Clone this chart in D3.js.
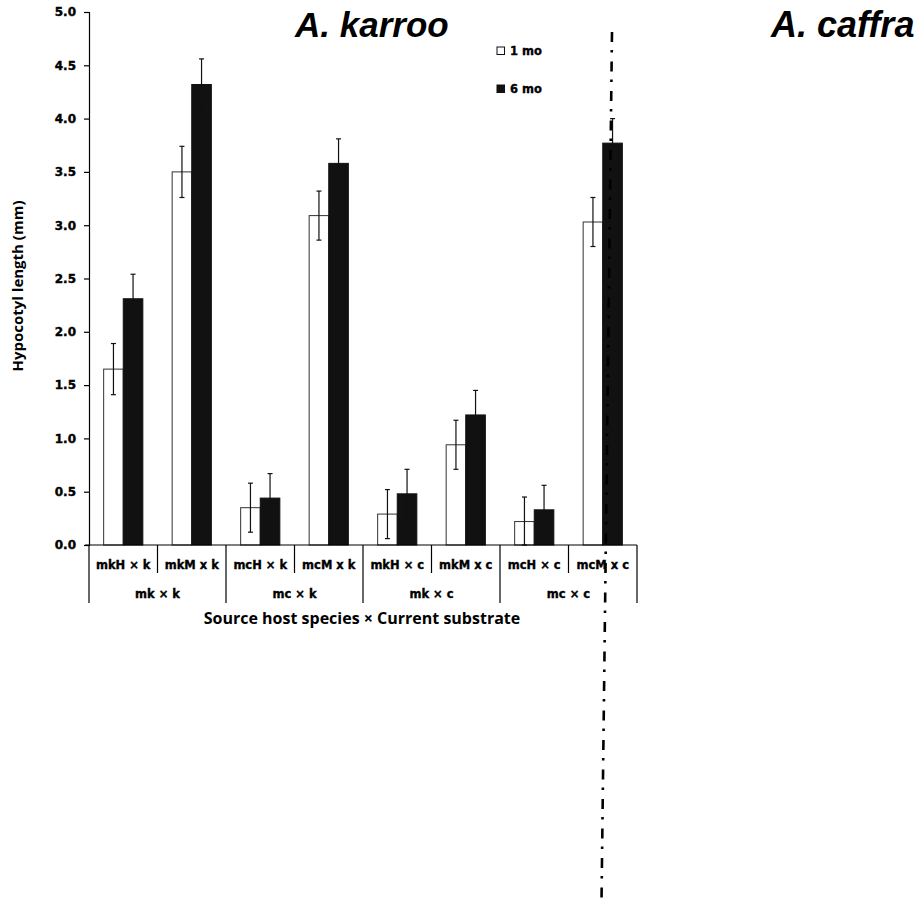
<!DOCTYPE html>
<html>
<head>
<meta charset="utf-8">
<script src="https://cdn.jsdelivr.net/npm/d3@7"></script>
<style>
  html, body { margin: 0; padding: 0; background: #fff; }
  svg { display: block; }
</style>
</head>
<body>
<svg id="chart" width="922" height="903"></svg>
<script>
// Treatment combinations (source host × current substrate)
const categories = ["mkH × k", "mkM x k", "mcH × k", "mcM x k", "mkH × c", "mkM x c", "mcH × c", "mcM x c"];
const groups = ["mk × k", "mc × k", "mk × c", "mc × c"];
const seriesNames = ["1 mo", "6 mo"];

// Mean hypocotyl length (mm) and standard error
const oneMonth   = [1.65, 3.50, 0.35, 3.09, 0.29, 0.94, 0.22, 3.03];
const oneMonthSE = [0.24, 0.24, 0.23, 0.23, 0.23, 0.23, 0.23, 0.23];
const sixMonth   = [2.31, 4.32, 0.44, 3.58, 0.48, 1.22, 0.33, 3.77];
const sixMonthSE = [0.23, 0.24, 0.23, 0.23, 0.23, 0.23, 0.23, 0.23];

const yTicks = [0, 0.5, 1, 1.5, 2, 2.5, 3, 3.5, 4, 4.5, 5];
const titles = ["A. karroo", "A. caffra"];

const svg = d3.select("#chart");
const plot = { left: 89, right: 637, top: 12, bottom: 545 };

const y = d3.scaleLinear().domain([0, 5]).range([plot.bottom, plot.top]);
const x = d3.scaleBand().domain(categories).range([plot.left, plot.right]).paddingInner(0).paddingOuter(0);
const barW = x.bandwidth() * 0.286;
const sub = d3.scaleBand().domain(seriesNames).range([-barW, barW]);

const tickFont = "'DejaVu Sans', sans-serif";

// Bars and error bars
const series = [
  { name: "1 mo", values: oneMonth, se: oneMonthSE, fill: "#ffffff", stroke: "#333" },
  { name: "6 mo", values: sixMonth, se: sixMonthSE, fill: "#111111", stroke: "#111" }
];

series.forEach(s => {
  const g = svg.append("g");
  categories.forEach((c, i) => {
    const cx = x(c) + x.bandwidth() / 2;
    const x0 = cx + sub(s.name);
    g.append("rect")
      .attr("x", x0).attr("y", y(s.values[i]))
      .attr("width", sub.bandwidth()).attr("height", y(0) - y(s.values[i]))
      .attr("fill", s.fill).attr("stroke", s.stroke).attr("stroke-width", 1);
  });
});

series.forEach(s => {
  const g = svg.append("g").attr("stroke", "#111").attr("stroke-width", 1.2);
  categories.forEach((c, i) => {
    const ex = x(c) + x.bandwidth() / 2 + sub(s.name) + sub.bandwidth() / 2;
    const hi = s.values[i] + s.se[i];
    const lo = Math.max(0, s.values[i] - s.se[i]);
    g.append("line").attr("x1", ex).attr("x2", ex).attr("y1", y(hi)).attr("y2", y(lo));
    g.append("line").attr("x1", ex - 2.5).attr("x2", ex + 2.5).attr("y1", y(hi)).attr("y2", y(hi));
    g.append("line").attr("x1", ex - 2.5).attr("x2", ex + 2.5).attr("y1", y(lo)).attr("y2", y(lo));
  });
});

// Y axis
const yAxis = svg.append("g")
  .attr("transform", `translate(${plot.left},0)`)
  .call(d3.axisLeft(y).tickValues(yTicks).tickFormat(d3.format(".1f")).tickSize(5).tickPadding(8));
yAxis.select(".domain").attr("stroke", "#000").attr("stroke-width", 1.2);
yAxis.selectAll(".tick line").attr("stroke", "#000").attr("stroke-width", 1.2);
yAxis.selectAll(".tick text")
  .attr("font-family", tickFont).attr("font-weight", "bold").attr("font-size", 12).attr("fill", "#000")
  .attr("stroke", "#000").attr("stroke-width", 0.4);

// X axis baseline
svg.append("line")
  .attr("x1", plot.left - 4).attr("x2", plot.right)
  .attr("y1", y(0)).attr("y2", y(0))
  .attr("stroke", "#000").attr("stroke-width", 1.2);

// Category separators: short between pairs, long between groups
const bounds = categories.map(c => x(c)).concat([x.range()[1]]);
bounds.forEach((bx, i) => {
  const long = i % 2 === 0;
  svg.append("line")
    .attr("x1", bx).attr("x2", bx)
    .attr("y1", y(0)).attr("y2", long ? 603 : 573)
    .attr("stroke", "#000").attr("stroke-width", 1.2);
});

// Category labels
svg.append("g").selectAll("text").data(categories).join("text")
  .attr("x", d => x(d) + x.bandwidth() / 2)
  .attr("y", 569)
  .attr("text-anchor", "middle")
  .attr("font-family", tickFont).attr("font-weight", "bold").attr("font-size", 11.5)
  .attr("stroke", "#000").attr("stroke-width", 0.35)
  .text(d => d);

svg.append("g").selectAll("text").data(groups).join("text")
  .attr("x", (d, i) => (x(categories[i * 2]) + x(categories[i * 2 + 1]) + x.bandwidth()) / 2)
  .attr("y", 598)
  .attr("text-anchor", "middle")
  .attr("font-family", tickFont).attr("font-weight", "bold").attr("font-size", 11.5)
  .attr("stroke", "#000").attr("stroke-width", 0.35)
  .text(d => d);

// Axis titles
svg.append("text")
  .attr("x", 362).attr("y", 624)
  .attr("text-anchor", "middle")
  .attr("font-family", "'Open Sans', sans-serif").attr("font-weight", "bold").attr("font-size", 16)
  .text("Source host species × Current substrate");

svg.append("text")
  .attr("transform", "translate(23,286) rotate(-90)")
  .attr("text-anchor", "middle")
  .attr("font-family", "'Open Sans', sans-serif").attr("font-weight", "bold").attr("font-size", 15)
  .text("Hypocotyl length (mm)");

// Panel titles
svg.append("text")
  .attr("x", 295).attr("y", 37)
  .attr("font-family", "'Liberation Sans', Arial, sans-serif").attr("font-weight", "bold")
  .attr("font-style", "italic").attr("font-size", 35)
  .text(titles[0]);
svg.append("text")
  .attr("x", 771).attr("y", 37)
  .attr("font-family", "'Liberation Sans', Arial, sans-serif").attr("font-weight", "bold")
  .attr("font-style", "italic").attr("font-size", 36)
  .text(titles[1]);

// Legend
const legend = svg.append("g");
series.forEach((s, i) => {
  const ly = 47 + i * 38;
  legend.append("rect")
    .attr("x", 497).attr("y", ly).attr("width", 7.5).attr("height", 7.5)
    .attr("fill", s.fill).attr("stroke", "#111").attr("stroke-width", 1);
  legend.append("text")
    .attr("x", 510).attr("y", ly + 7.5)
    .attr("font-family", tickFont).attr("font-weight", "bold").attr("font-size", 11.5)
    .attr("stroke", "#000").attr("stroke-width", 0.35)
    .text(s.name);
});

// Dash-dot divider between the two species panels
svg.append("line")
  .attr("x1", 612).attr("y1", 32)
  .attr("x2", 601.5).attr("y2", 902)
  .attr("stroke", "#000").attr("stroke-width", 2.6)
  .attr("stroke-dasharray", "10,8,2.5,9");
</script>
</body>
</html>
